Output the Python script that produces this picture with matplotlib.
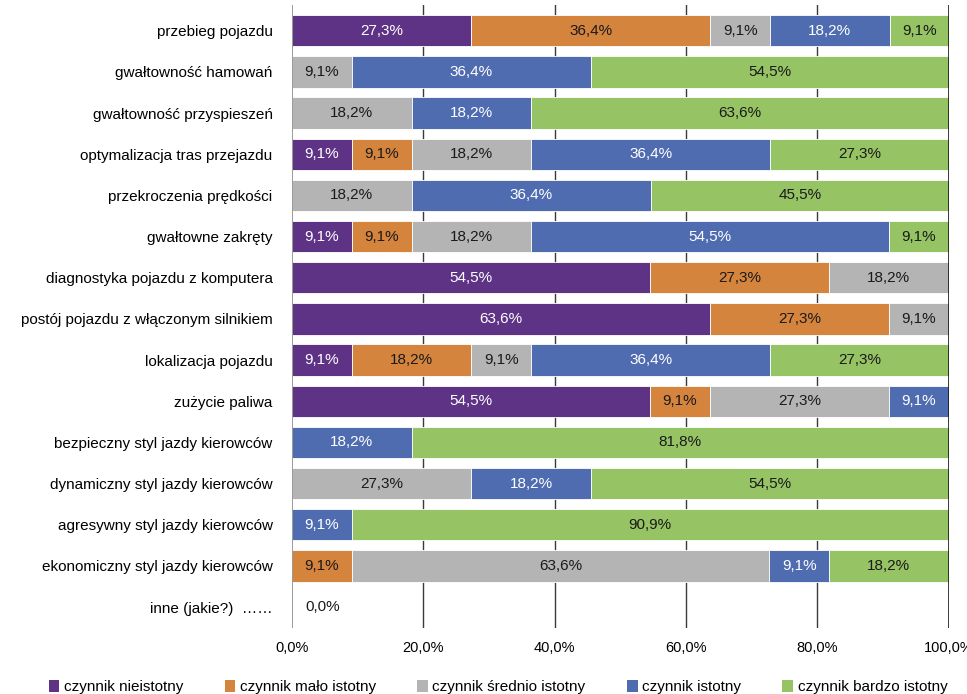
import numpy as np
import matplotlib
matplotlib.use("Agg")
import matplotlib.pyplot as plt
from matplotlib.patches import Patch

plt.rcParams['font.family'] = ['Liberation Sans', 'DejaVu Sans']

# --- dane ---
kategorie = [
    "przebieg pojazdu",
    "gwałtowność hamowań",
    "gwałtowność przyspieszeń",
    "optymalizacja tras przejazdu",
    "przekroczenia prędkości",
    "gwałtowne zakręty",
    "diagnostyka pojazdu z komputera",
    "postój pojazdu z włączonym silnikiem",
    "lokalizacja pojazdu",
    "zużycie paliwa",
    "bezpieczny styl jazdy kierowców",
    "dynamiczny styl jazdy kierowców",
    "agresywny styl jazdy kierowców",
    "ekonomiczny styl jazdy kierowców",
    "inne (jakie?)  ……",
]

nieistotny = [27.3, 0, 0, 9.1, 0, 9.1, 54.5, 63.6, 9.1, 54.5, 0, 0, 0, 0, 0]
malo_istotny = [36.4, 0, 0, 9.1, 0, 9.1, 27.3, 27.3, 18.2, 9.1, 0, 0, 0, 9.1, 0]
srednio_istotny = [9.1, 9.1, 18.2, 18.2, 18.2, 18.2, 18.2, 9.1, 9.1, 27.3, 0, 27.3, 0, 63.6, 0]
istotny = [18.2, 36.4, 18.2, 36.4, 36.4, 54.5, 0, 0, 36.4, 9.1, 18.2, 18.2, 9.1, 9.1, 0]
bardzo_istotny = [9.1, 54.5, 63.6, 27.3, 45.5, 9.1, 0, 0, 27.3, 0, 81.8, 54.5, 90.9, 18.2, 0]

serie = [
    ("czynnik nieistotny", nieistotny, "#5e3385", "white"),
    ("czynnik mało istotny", malo_istotny, "#d5843d", "#1a1a1a"),
    ("czynnik średnio istotny", srednio_istotny, "#b4b4b4", "#1a1a1a"),
    ("czynnik istotny", istotny, "#506cb0", "white"),
    ("czynnik bardzo istotny", bardzo_istotny, "#96c364", "#1a1a1a"),
]

fig = plt.figure(figsize=(9.67, 6.94), dpi=100)
ax = fig.add_axes([0.302, 0.095, 0.679, 0.898])

y = np.arange(len(kategorie))
lewo = np.zeros(len(kategorie))
for nazwa, wartosci, kolor, kolor_tekstu in serie:
    w = np.array(wartosci)
    ax.barh(y, w, left=lewo, height=0.76, color=kolor, edgecolor="white",
            linewidth=0.6, zorder=2)
    for i, v in enumerate(w):
        if v > 0:
            ax.text(lewo[i] + v / 2, y[i], f"{v:.1f}%".replace(".", ","),
                    ha="center", va="center", fontsize=11, color=kolor_tekstu,
                    zorder=3)
    lewo += w

# wiersz bez odpowiedzi
for i in range(len(kategorie)):
    if lewo[i] == 0:
        ax.text(2, y[i], "0,0%", ha="left", va="center", fontsize=11,
                color="#1a1a1a", zorder=3)

ax.set_xlim(0, 100)
ax.set_ylim(14.51, -0.63)
ax.set_yticks(y)
ax.set_yticklabels(kategorie, fontsize=11)
ax.set_xticks(np.arange(0, 101, 20))
ax.set_xticklabels([f"{t:.1f}%".replace(".", ",") for t in np.arange(0, 101, 20)],
                   fontsize=10.5)
ax.tick_params(axis="both", length=0)
ax.tick_params(axis="x", pad=9)
ax.tick_params(axis="y", pad=14)

# siatka pod słupkami, krawędzie 0% i 100% na wierzchu
for t in np.arange(20, 81, 20):
    ax.axvline(t, color="#3a3a3a", linewidth=1, zorder=1)
ax.axvline(0, color="#8a8a8a", linewidth=1.2, zorder=4)
ax.axvline(100, color="#1a1a1a", linewidth=1.2, zorder=4)
for s in ax.spines.values():
    s.set_visible(False)

uchwyty = [Patch(facecolor=k, edgecolor="none", label=n) for n, _, k, _ in serie]
fig.legend(handles=uchwyty, loc="lower center", bbox_to_anchor=(0.515, -0.02),
           ncol=5, frameon=False, fontsize=11, handlelength=0.7,
           handleheight=0.9, handletextpad=0.3, columnspacing=2.7)

fig.savefig("out.png", dpi=100)
